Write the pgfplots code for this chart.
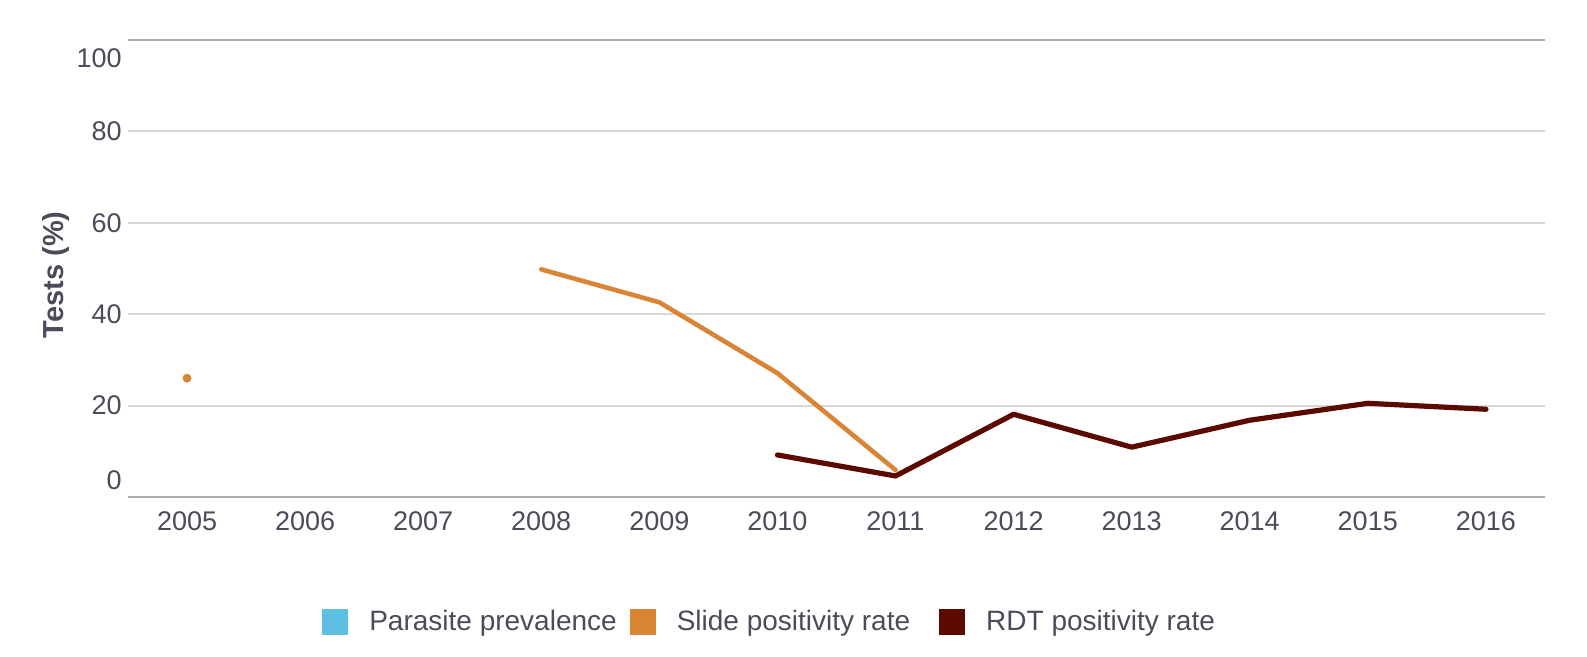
\documentclass[border=0pt]{standalone}
\usepackage{fontspec}
\setmainfont{Liberation Sans}
\usepackage{pgfplots}
\pgfplotsset{compat=1.18}
\definecolor{txt}{HTML}{4B4B5A}
\definecolor{gridc}{HTML}{D8D8D8}
\definecolor{axisc}{HTML}{ADADAD}
\definecolor{parasite}{HTML}{5EC0E0}
\definecolor{slide}{HTML}{D98536}
\definecolor{rdt}{HTML}{5C0A00}
\begin{document}
\begin{tikzpicture}
\begin{axis}[
  at={(0,0)}, anchor=south west,
  scale only axis, width=708.5pt, height=228.5pt,
  xmin=2004.5, xmax=2016.5, ymin=0, ymax=100,
  xtick={2005,...,2016}, ytick={0,20,...,100},
  yticklabels={,20,40,60,80,},
  /pgf/number format/assume math mode=true,
  /pgf/number format/1000 sep={},
  major tick length=0pt,
  axis line style={draw=none},
  ymajorgrids, grid style={gridc, line width=1pt},
  tick label style={font=\fontsize{13.5}{15}\selectfont, text=txt, inner sep=0pt},
  xticklabel style={anchor=north, yshift=-7pt},
  yticklabel style={anchor=east, xshift=-3pt},
  ylabel={Tests (\%)},
  ylabel style={at={(axis description cs:-0.051,0.486)}, anchor=center,
    font=\fontsize{14.5}{16}\selectfont\bfseries, text=txt},
  legend style={at={(0.4535,-0.2735)}, anchor=center, draw=none, fill=none,
    font=\fontsize{14}{16}\selectfont, text=txt, legend columns=3,
    /tikz/every odd column/.append style={column sep=8.5pt},
    /tikz/every even column/.append style={column sep=4.5pt}},
  legend image code/.code={\fill[#1, draw=none] (0pt,-6.5pt) rectangle (13pt,6.5pt);},
  after end axis/.code={
    \draw[axisc, line width=1.1pt] (rel axis cs:0,0) -- (rel axis cs:1,0);
    \draw[axisc, line width=1.1pt] (rel axis cs:0,1) -- (rel axis cs:1,1);
    \node[anchor=east, inner sep=0pt, font=\fontsize{13.5}{15}\selectfont, text=txt]
      at ([xshift=-3pt, yshift=8.5pt]rel axis cs:0,0) {0};
    \node[anchor=east, inner sep=0pt, font=\fontsize{13.5}{15}\selectfont, text=txt]
      at ([xshift=-3pt, yshift=-9pt]rel axis cs:0,1) {100};
  },
]
\addlegendimage{parasite}
\addlegendentry{Parasite prevalence}
\addplot[slide, line width=2.3pt, line join=round, line cap=round, unbounded coords=jump] coordinates {
  (2005,nan) (2006,nan) (2007,nan) (2008,49.8) (2009,42.6) (2010,27.1) (2011,5.9)
};
\addlegendentry{Slide positivity rate\rule{8pt}{0pt}}
\addplot[rdt, line width=2.6pt, line join=round, line cap=round] coordinates {
  (2010,9.2) (2011,4.6) (2012,18.1) (2013,10.9) (2014,16.8) (2015,20.5) (2016,19.2)
};
\addlegendentry{RDT positivity rate}
\addplot[slide, only marks, mark=*, mark size=2pt, forget plot] coordinates {
  (2005,26.0)
};
\end{axis}
\pgfresetboundingbox
\path[use as bounding box] (-64pt,-80pt) rectangle (729.5pt,248.5pt);
\end{tikzpicture}
\end{document}
